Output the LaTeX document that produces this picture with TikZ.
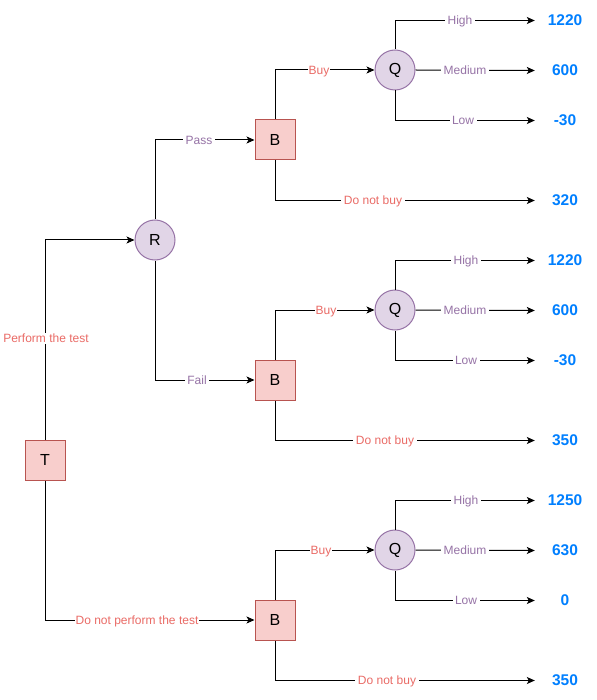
\documentclass[tikz,border=0pt]{standalone}
\usepackage{fontspec}
\setmainfont{Liberation Sans}
\usetikzlibrary{arrows.meta}
\definecolor{bfill}{HTML}{F8CECC}
\definecolor{bdraw}{HTML}{B85450}
\definecolor{cfill}{HTML}{E1D5E7}
\definecolor{cdraw}{HTML}{9673A6}
\definecolor{lred}{HTML}{EA6B66}
\definecolor{lpurple}{HTML}{9673A6}
\definecolor{valc}{HTML}{007FFF}
\begin{document}
\begin{tikzpicture}[x=1pt,y=-1pt,
  sq/.style={draw=bdraw,fill=bfill,line width=1pt,minimum size=40pt,inner sep=0pt,font=\fontsize{16}{16}\selectfont},
  ch/.style={circle,draw=cdraw,fill=cfill,line width=1pt,minimum size=40pt,inner sep=0pt,font=\fontsize{16}{16}\selectfont},
  val/.style={minimum width=60pt,inner sep=0pt,text=valc,font=\bfseries\fontsize{15.5}{16}\selectfont},
  conn/.style={draw=black,line width=1pt,-{Stealth[length=8pt,width=7pt,inset=2pt]}},
  lbl/.style={fill=white,anchor=base,inner xsep=2.5pt,inner ysep=1pt,font=\fontsize{12}{12}\selectfont},
  tight/.style={inner xsep=0.5pt},
  lr/.style={lbl,text=lred},
  lp/.style={lbl,text=lpurple}]
\useasboundingbox (0,0) rectangle (596,700);
% nodes
\node[sq] (T) at (45,460) {T};
\node[ch] (R) at (155,240) {R};
\node[sq] (B1) at (275,140) {B};
\node[sq] (B2) at (275,380) {B};
\node[sq] (B3) at (275,620) {B};
\node[ch] (Q1) at (395,70) {Q};
\node[ch] (Q2) at (395,310) {Q};
\node[ch] (Q3) at (395,550) {Q};
% values
\node[val] (v1h) at (565,20.5) {1220};
\node[val] (v1m) at (565,70.5) {600};
\node[val] (v1l) at (565,120.5) {-30};
\node[val] (v1d) at (565,200.5) {320};
\node[val] (v2h) at (565,260.5) {1220};
\node[val] (v2m) at (565,310.5) {600};
\node[val] (v2l) at (565,360.5) {-30};
\node[val] (v2d) at (565,440.5) {350};
\node[val] (v3h) at (565,500.5) {1250};
\node[val] (v3m) at (565,550.5) {630};
\node[val] (v3l) at (565,600.5) {0};
\node[val] (v3d) at (565,680.5) {350};
% connectors
\draw[conn] (T.north) |- (R.west);
\draw[conn] (T.south) |- (B3.west);
\draw[conn] (R.north) |- (B1.west);
\draw[conn] (R.south) |- (B2.west);
\foreach \i in {1,2,3}{
  \draw[conn] (B\i.north) |- (Q\i.west);
  \draw[conn] (B\i.south) |- (v\i d.west);
  \draw[conn] (Q\i.north) |- (v\i h.west);
  \draw[conn] (Q\i.east) -- (v\i m.west);
  \draw[conn] (Q\i.south) |- (v\i l.west);
}
% labels
\node[lr,tight] (lpt) at (46,342.5) {Perform the test};
\node[lr,tight] (lnpt) at (137,624.5) {Do not perform the test};
\node[lp] (lpass) at (199,144.5) {Pass};
\node[lp] (lfail) at (197,384.5) {Fail};
\node[lr,tight] (lb1) at (319,74.5) {Buy};
\node[lr,tight] (lb2) at (326,314.5) {Buy};
\node[lr,tight] (lb3) at (321,554.5) {Buy};
\node[lr] (ld1) at (373,204.5) {Do not buy};
\node[lr] (ld2) at (385,444.5) {Do not buy};
\node[lr] (ld3) at (387,684.5) {Do not buy};
\node[lp] (lh1) at (460,24.5) {High};
\node[lp] (lm1) at (465,74.5) {Medium};
\node[lp] (ll1) at (463,124.5) {Low};
\node[lp] (lh2) at (466,264.5) {High};
\node[lp] (lm2) at (465,314.5) {Medium};
\node[lp] (ll2) at (466,364.5) {Low};
\node[lp] (lh3) at (466,504.5) {High};
\node[lp] (lm3) at (465,554.5) {Medium};
\node[lp] (ll3) at (466,604.5) {Low};
\end{tikzpicture}
\end{document}
